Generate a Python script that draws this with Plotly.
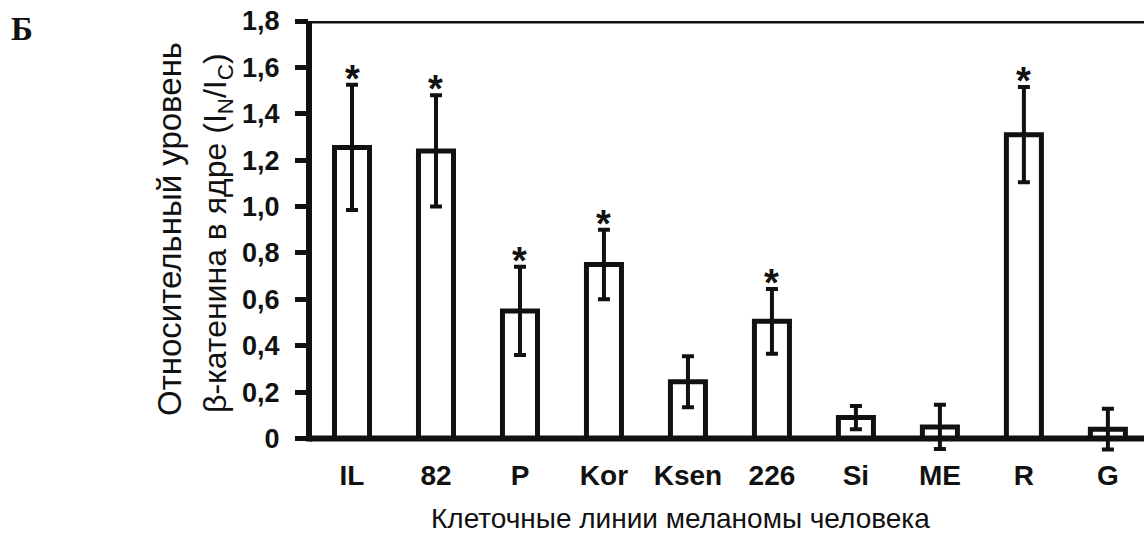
import plotly.graph_objects as go

# Cell lines and nuclear beta-catenin level (I_N / I_C), mean and error
cell_lines = ["IL", "82", "P", "Kor", "Ksen", "226", "Si", "ME", "R", "G"]
levels = [1.255, 1.24, 0.55, 0.75, 0.245, 0.505, 0.09, 0.05, 1.31, 0.04]
errors = [0.27, 0.24, 0.19, 0.15, 0.11, 0.14, 0.05, 0.095, 0.205, 0.088]
significant = [True, True, True, True, False, True, False, False, True, False]

y_tick_values = [0, 0.2, 0.4, 0.6, 0.8, 1.0, 1.2, 1.4, 1.6, 1.8]
y_tick_labels = ["0", "0,2", "0,4", "0,6", "0,8", "1,0", "1,2", "1,4", "1,6", "1,8"]

INK = "#111111"
SANS = "Liberation Sans, Arial, sans-serif"

# plot-area geometry (pixels) used to place paper-referenced texts
W, H = 1144, 541
ML, MR, MT, MB = 309, 0, 21, 85
PW, PH = W - ML - MR, H - MT - MB


def px_x(px):
    return (px - ML) / PW


def px_y(py):
    return (MT + PH - py) / PH


positions = list(range(len(cell_lines)))

fig = go.Figure()
fig.add_trace(go.Bar(
    x=positions,
    y=levels,
    width=0.417,
    marker=dict(color="white", line=dict(color=INK, width=5)),
    error_y=dict(type="data", array=errors, visible=True,
                 color=INK, thickness=4, width=6),
    hoverinfo="skip",
))

# significance stars above the error bars
for xi, v, e, sig in zip(positions, levels, errors, significant):
    if sig:
        fig.add_annotation(x=xi, y=v + e, xref="x", yref="y", text="*",
                           showarrow=False, yanchor="bottom", yshift=-17,
                           font=dict(family=SANS, size=38, color=INK, weight="bold"))

# frame: baseline at zero, left axis line and top line
fig.add_shape(type="line", xref="paper", yref="y", x0=0, x1=1, y0=0, y1=0,
              line=dict(color=INK, width=6))
fig.add_shape(type="line", xref="paper", yref="y", x0=0, x1=1, y0=1.8, y1=1.8,
              line=dict(color=INK, width=5))
fig.add_shape(type="line", xref="paper", yref="y", x0=0, x1=0, y0=-0.013, y1=1.811,
              line=dict(color=INK, width=6))

# y-axis title, two lines
fig.add_annotation(xref="paper", yref="paper", x=px_x(169), y=px_y(229),
                   text="Относительный уровень", textangle=-90,
                   xanchor="center", yanchor="middle", showarrow=False,
                   font=dict(family=SANS, size=33, color=INK))
fig.add_annotation(xref="paper", yref="paper", x=px_x(217), y=px_y(233),
                   text="β-катенина в ядре (I<sub>N</sub>/I<sub>C</sub>)", textangle=-90,
                   xanchor="center", yanchor="middle", showarrow=False,
                   font=dict(family=SANS, size=32, color=INK))

# x-axis title
fig.add_annotation(xref="paper", yref="paper", x=px_x(680), y=px_y(518),
                   text="Клеточные линии меланомы человека",
                   xanchor="center", yanchor="middle", showarrow=False,
                   font=dict(family=SANS, size=28, color=INK))

# panel letter
fig.add_annotation(xref="paper", yref="paper", x=px_x(9), y=px_y(9),
                   text="Б", xanchor="left", yanchor="top", showarrow=False,
                   font=dict(family="Liberation Serif, Times New Roman, serif",
                             size=33, color=INK, weight="bold"))

fig.update_layout(
    width=W, height=H,
    margin=dict(l=ML, r=MR, t=MT, b=MB),
    paper_bgcolor="white", plot_bgcolor="white",
    showlegend=False,
    xaxis=dict(
        range=[-0.512, 9.43],
        tickmode="array", tickvals=positions, ticktext=cell_lines,
        ticks="", showline=False,
        showgrid=False, zeroline=False, ticklabelstandoff=0,
        tickfont=dict(family=SANS, size=28, color=INK, weight="bold"),
    ),
    yaxis=dict(
        range=[-0.0755, 1.8],
        tickmode="array", tickvals=y_tick_values, ticktext=y_tick_labels,
        ticks="outside", ticklen=13, tickwidth=5, tickcolor=INK,
        showline=False,
        showgrid=False, zeroline=False, ticklabelstandoff=10,
        tickfont=dict(family=SANS, size=27, color=INK, weight="bold"),
    ),
)

fig.write_html("out.html")
